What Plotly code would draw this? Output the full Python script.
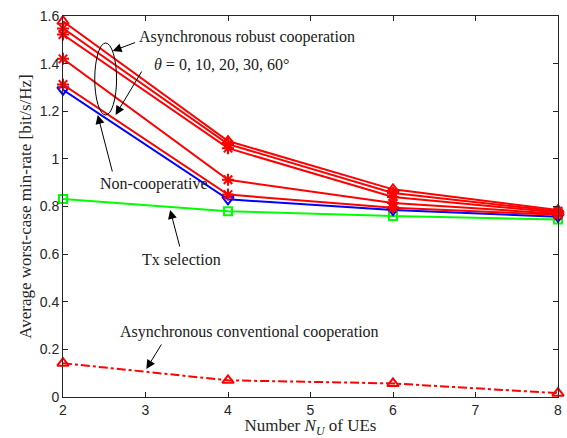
import plotly.graph_objects as go

num_ues = [2, 4, 6, 8]
robust_theta0 = [1.578, 1.075, 0.872, 0.785]
robust_theta10 = [1.548, 1.062, 0.857, 0.780]
robust_theta20 = [1.522, 1.045, 0.840, 0.775]
robust_theta30 = [1.420, 0.912, 0.815, 0.770]
robust_theta60 = [1.312, 0.850, 0.795, 0.765]
non_cooperative = [1.290, 0.830, 0.785, 0.757]
tx_selection = [0.832, 0.780, 0.760, 0.745]
conventional = [0.142, 0.070, 0.057, 0.016]

RED = "#ff0000"
fig = go.Figure()

def add(y, color, symbol, dash="solid", size=10):
    fig.add_trace(go.Scatter(
        x=num_ues, y=y, mode="lines+markers",
        line=dict(color=color, width=2, dash=dash),
        marker=dict(symbol=symbol, size=size, color=color,
                    line=dict(color=color, width=2)),
        showlegend=False, cliponaxis=False))

add(tx_selection, "#00ff00", "square-open", size=8)
add(non_cooperative, "#0000ff", "triangle-down-open")
add(robust_theta60, RED, "asterisk-open")
add(robust_theta30, RED, "asterisk-open")
add(robust_theta20, RED, "asterisk-open")
add(robust_theta10, RED, "asterisk-open")
add(robust_theta0, RED, "triangle-up-open")
add(conventional, RED, "triangle-up-open", dash="dashdot")

L, R, T, B = 63, 562, 16, 397
def px(x):
    return (x - L) / (R - L)
def py(y):
    return (B - y) / (B - T)

serif = "'Liberation Serif', 'DejaVu Serif', 'Times New Roman', serif"
ann = []
def text(x, y, s, xanchor="left"):
    ann.append(dict(x=px(x), y=py(y), xref="paper", yref="paper", text=s,
                    showarrow=False, xanchor=xanchor, yanchor="middle",
                    font=dict(family=serif, size=16, color="#1a1a1a")))
def arrow(x0, y0, x1, y1):
    ann.append(dict(x=px(x1), y=py(y1), xref="paper", yref="paper", text="",
                    showarrow=True, ax=x0 - x1, ay=y0 - y1, axref="pixel", ayref="pixel",
                    arrowhead=2, arrowsize=1.8, arrowwidth=1, arrowcolor="#000000",
                    standoff=0, startstandoff=0))

text(138, 37, "Asynchronous robust cooperation")
arrow(137, 42, 113, 51)
text(153, 64, "<i>θ</i> = 0, 10, 20, 30, 60°")
arrow(143, 70, 116, 115)
text(98, 184, "Non-cooperative")
arrow(113, 173, 98, 115)
text(141, 259, "Tx selection")
arrow(181, 248, 171, 210)
text(118, 332, "Asynchronous conventional cooperation")
arrow(163, 343, 147, 369)

fig.add_shape(type="circle", xref="paper", yref="paper",
              x0=px(95), x1=px(117), y0=py(115), y1=py(43),
              line=dict(color="#000000", width=1))

axis_common = dict(
    showgrid=False, zeroline=False, showline=True, linecolor="#262626", linewidth=1,
    mirror="ticks", ticks="inside", ticklen=5, tickcolor="#262626",
    ticklabeloverflow="allow",
    tickfont=dict(family="'Liberation Sans', Arial, sans-serif", size=14, color="#262626"),
)

fig.update_layout(
    width=567, height=438,
    margin=dict(l=L, r=567 - R, t=T, b=438 - B),
    paper_bgcolor="white", plot_bgcolor="white",
    xaxis=dict(range=[2, 8], dtick=1, tick0=2,
               title=dict(text="Number <i>N</i><sub><i>U</i></sub> of UEs", standoff=3,
                          font=dict(family=serif, size=17, color="#262626")),
               **axis_common),
    yaxis=dict(range=[0, 1.6], dtick=0.2, tick0=0,
               title=dict(text="Average worst-case min-rate [bit/s/Hz]", standoff=3,
                          font=dict(family=serif, size=17, color="#262626")),
               **axis_common),
    annotations=ann,
)

fig.write_html("out.html", config={"displayModeBar": False},
               post_script="document.body.style.margin='0';document.body.style.overflow='hidden';")
